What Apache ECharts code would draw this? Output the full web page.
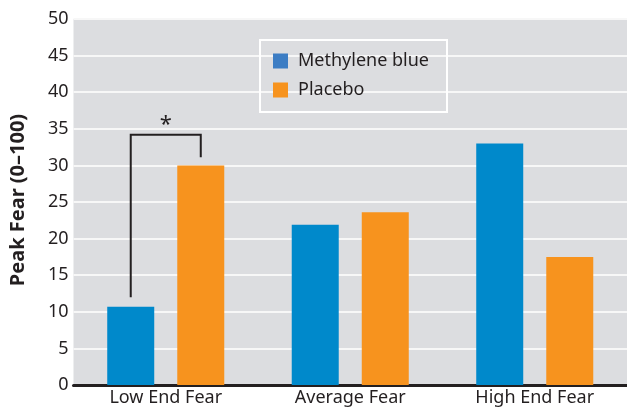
<!DOCTYPE html>
<html>
<head>
<meta charset="utf-8">
<script src="https://cdn.jsdelivr.net/npm/echarts@6/dist/echarts.min.js"></script>
<style>html,body{margin:0;padding:0;background:#fff;}#c{width:627px;height:408px;}</style>
</head>
<body>
<div id="c"></div>
<script>
const categories = ['Low End Fear', 'Average Fear', 'High End Fear'];
const methyleneBlue = [10.7, 21.9, 33.0];
const placebo = [30.0, 23.6, 17.5];
const yTicks = [0, 5, 10, 15, 20, 25, 30, 35, 40, 45, 50];
// significance bracket: [category index, blue end, bracket top, placebo end, star level]
const bracket = [[0, 12.0, 34.2, 31.1, 35.6]];

const FONT = 'Noto Sans';
const TXT = '#231f20';
const BAR_W = 47;
const GAP = 0.49;
const OFFSET = BAR_W * (1 + GAP) / 2;

const chart = echarts.init(document.getElementById('c'), null, {renderer: 'canvas'});
chart.setOption({
  animation: false,
  textStyle: {fontFamily: FONT},
  grid: {left: 73.5, top: 19, width: 558, height: 366, show: true, backgroundColor: '#dcdde0', borderWidth: 0, containLabel: false},
  legend: {
    orient: 'vertical', left: 260, top: 40,
    borderColor: '#ffffff', borderWidth: 2, padding: [12, 18, 13, 13],
    itemWidth: 15, itemHeight: 15, itemGap: 11,
    icon: 'rect',
    textStyle: {fontFamily: FONT, fontSize: 18, color: TXT, padding: [0, 0, 0, 5]},
    data: [
      {name: 'Methylene blue', itemStyle: {color: '#3c7dc4'}},
      {name: 'Placebo', itemStyle: {color: '#f7931e'}}
    ]
  },
  graphic: [{
    type: 'text', rotation: Math.PI / 2,
    x: 18, y: 200,
    style: {text: 'Peak Fear (0\u2013100)', fontFamily: FONT, fontWeight: 'bold', fontSize: 20, fill: TXT, align: 'center', verticalAlign: 'middle'}
  }],
  xAxis: {
    type: 'category', data: categories,
    axisLine: {show: true, lineStyle: {color: TXT, width: 3}},
    axisTick: {show: false},
    axisLabel: {fontFamily: FONT, fontSize: 18, color: TXT, margin: 4},
    splitLine: {show: false}
  },
  yAxis: {
    type: 'value', min: 0, max: 50, interval: 5,
    axisLine: {show: false}, axisTick: {show: false},
    axisLabel: {fontFamily: FONT, fontSize: 18, color: TXT, margin: 5,
      formatter: v => yTicks.includes(v) ? String(v) : ''},
    splitLine: {show: true, lineStyle: {color: '#f7f7f7', width: 2}}
  },
  series: [
    {name: 'Methylene blue', type: 'bar', data: methyleneBlue, barWidth: BAR_W, barGap: (GAP * 100) + '%', itemStyle: {color: '#0089cb'}},
    {name: 'Placebo', type: 'bar', data: placebo, barWidth: BAR_W, barGap: (GAP * 100) + '%', itemStyle: {color: '#f7931e'}},
    {
      type: 'custom', data: bracket, silent: true, z: 5,
      encode: {x: 0, y: [1, 2, 3, 4]},
      renderItem: function (params, api) {
        const cat = api.value(0);
        const pBlue = api.coord([cat, api.value(1)]);
        const pTop = api.coord([cat, api.value(2)]);
        const pOr = api.coord([cat, api.value(3)]);
        const pStar = api.coord([cat, api.value(4)]);
        const xl = pTop[0] - OFFSET, xr = pTop[0] + OFFSET;
        return {
          type: 'group',
          children: [
            {type: 'polyline', shape: {points: [[xl, pBlue[1]], [xl, pTop[1]], [xr, pTop[1]], [xr, pOr[1]]]},
              style: {stroke: TXT, lineWidth: 2, fill: null}},
            {type: 'text', x: pStar[0], y: pStar[1],
              style: {text: '*', fontFamily: FONT, fontSize: 22, fill: TXT, align: 'center', verticalAlign: 'middle'}}
          ]
        };
      }
    }
  ]
});
</script>
</body>
</html>
